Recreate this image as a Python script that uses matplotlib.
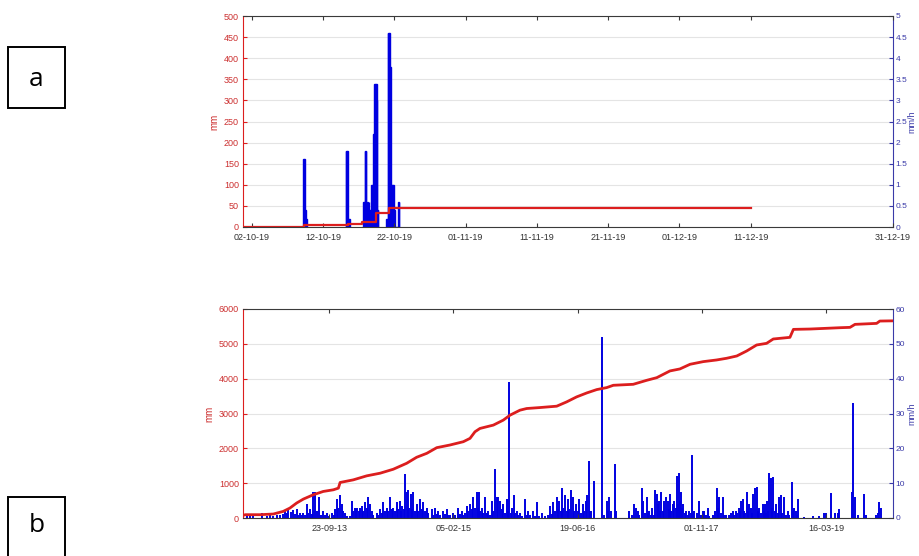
import numpy as np
import pandas as pd
import matplotlib
matplotlib.use("Agg")
import matplotlib.pyplot as plt
import matplotlib.dates as mdates
from matplotlib.patches import Rectangle

plt.rcParams['font.family'] = ['Liberation Sans', 'DejaVu Sans']

RED = '#dc1e1e'
RED_TXT = '#cc3030'
BLUE = '#0000e0'
BLUE_TXT = '#3a3aa8'
GREY = '#333333'

# ---- panel a : one storm period, autumn 2019 ----
# rain intensity (mm/h) in 2-hour steps, one list per storm
storm_start = ['2019-10-09 04:00', '2019-10-15 04:00', '2019-10-17 14:00', '2019-10-20 20:00']
storm_vals = [
    [1.6, 1.6, 1.6, 0.4, 0.4, 0.2],
    [1.8, 1.8, 1.8, 1.8, 0.2, 0.2, 0.2],
    [0.6, 0.6, 0.6, 1.8, 1.8, 1.8, 0.4, 0.6, 0.4, 0.4, 0.6, 0.4, 0.4, 0.4,
     1.0, 1.0, 1.0, 2.2, 2.2, 3.4, 3.4, 3.4, 3.4, 3.0, 0.4, 0.4],
    [0.2, 0.2, 0.2, 4.6, 4.6, 4.6, 3.8, 3.8, 1.0, 1.0, 1.0, 1.0, 1.0, 0.4, 0.4,
     0, 0, 0, 0, 0, 0.6, 0.6],
]
# cumulative rain (mm), step changes
cum_a_time = ['2019-10-01 00:00', '2019-10-09 06:00', '2019-10-15 12:00', '2019-10-17 12:00',
              '2019-10-19 10:00', '2019-10-21 07:00', '2019-12-11 00:00']
cum_a_mm = [0, 5, 8, 12, 34, 45, 45]
ticks_a = ['2019-10-02', '2019-10-12', '2019-10-22', '2019-11-01', '2019-11-11',
           '2019-11-21', '2019-12-01', '2019-12-11', '2019-12-31']

# ---- panel b : full record 2012-2019 (days since 11-10-2012) ----
record_start = '2012-10-11'
rain_day = [2, 15, 28, 42, 75, 95, 109, 122, 136, 150, 162, 169, 176, 183, 192, 203, 210, 216,
            223, 230, 236, 243, 250, 256, 263, 270, 276, 283, 290, 297, 306, 315, 323, 330, 337,
            345, 357, 365, 372, 377, 384, 390, 397, 404, 411, 418, 430, 438, 444, 451, 456, 460,
            466, 471, 478, 485, 491, 498, 505, 511, 518, 525, 538, 545, 552, 558, 565, 571, 578,
            585, 592, 598, 605, 612, 619, 625, 632, 637, 642, 648, 652, 659, 666, 670, 675, 680,
            686, 692, 699, 705, 713, 719, 726, 732, 739, 746, 760, 766, 773, 780, 786, 793, 806,
            813, 820, 826, 833, 847, 855, 867, 874, 880, 887, 893, 900, 907, 914, 920, 927, 934,
            941, 946, 952, 956, 961, 968, 974, 981, 988, 994, 1001, 1008, 1015, 1021, 1028, 1035,
            1041, 1048, 1055, 1062, 1067, 1072, 1077, 1082, 1091, 1096, 1102, 1108, 1115, 1122,
            1135, 1142, 1149, 1155, 1169, 1176, 1182, 1190, 1202, 1216, 1229, 1236, 1243, 1249,
            1256, 1263, 1268, 1274, 1279, 1283, 1290, 1296, 1303,
            1308, 1314, 1321, 1327, 1334, 1341, 1348, 1354, 1361, 1368, 1374, 1381, 1387, 1392,
            1396, 1401, 1414, 1444, 1455, 1464, 1470, 1475, 1482, 1498, 1502, 1555, 1568, 1576,
            1582, 1589, 1595, 1605, 1612, 1618, 1625, 1630, 1636, 1642, 1647, 1653, 1660, 1665,
            1669, 1674, 1678, 1683, 1690, 1696, 1703, 1710, 1715, 1719, 1725, 1730, 1737, 1742,
            1746, 1750, 1754, 1759, 1763, 1768, 1773, 1778, 1784, 1790, 1797, 1802, 1806, 1812,
            1817, 1827, 1837, 1844, 1851, 1857, 1864, 1871, 1878, 1891, 1900, 1907, 1912, 1918,
            1925, 1931, 1938, 1945, 1958, 1965, 1971, 1978, 1985, 1990, 1996, 2001, 2005, 2012,
            2018, 2023, 2028, 2034, 2039, 2045, 2050, 2055, 2063, 2069, 2074, 2079, 2086, 2092,
            2097, 2102, 2106, 2110, 2115, 2119, 2126, 2130, 2135, 2140, 2146, 2152, 2159, 2166,
            2172, 2179, 2186, 2193, 2200, 2210, 2215, 2220, 2226, 2231, 2236, 2260, 2294, 2320,
            2341, 2347, 2367, 2385, 2394, 2401, 2452, 2457, 2465, 2475, 2502, 2508, 2549, 2555,
            2562, 2569]
rain_int = [2.4, 1.0, 0.8, 1.2, 1.5, 0.6, 0.8, 0.5, 1.0, 0.8, 1.2, 2.0, 1.5, 2.5, 1.8, 2.2, 1.2, 2.5,
            1.0, 1.5, 0.8, 1.5, 1.0, 4.0, 1.5, 2.5, 1.2, 7.5, 7.5, 2.0, 6.0, 1.0, 2.0, 0.8, 1.5,
            0.6, 1.5, 0.8, 2.5, 5.5, 3.0, 6.5, 4.0, 2.0, 1.5, 0.6, 0.5, 5.0, 2.0, 3.0, 2.5, 3.0,
            2.0, 3.0, 3.5, 2.0, 4.5, 3.0, 6.0, 4.0, 2.0, 1.0, 1.5, 1.0, 2.5, 1.5, 4.5, 2.0, 3.0,
            2.0, 6.0, 2.5, 3.0, 2.0, 4.5, 2.5, 5.0, 2.0, 3.5, 2.5, 12.5, 7.5, 8.0, 3.0, 7.0, 2.5,
            7.5, 2.0, 4.0, 2.0, 5.5, 2.5, 4.5, 2.0, 3.0, 1.5, 2.5, 1.0, 3.0, 1.2, 2.0, 1.0, 2.0,
            1.2, 2.5, 1.0, 0.8, 1.5, 0.8, 3.0, 1.2, 2.0, 1.0, 1.5, 3.5, 2.0, 4.0, 2.5, 6.0, 3.0,
            7.5, 3.0, 7.5, 2.0, 3.0, 1.5, 6.0, 1.5, 2.0, 1.0, 5.0, 2.0, 14.2, 6.0, 6.0, 5.0,
            2.5, 4.0, 1.5, 5.5, 2.0, 39.0, 1.5, 3.0, 6.5, 1.5, 2.0, 0.8, 1.5, 0.6,
            5.5, 1.0, 2.0, 0.8, 2.0, 0.6, 4.5, 0.5, 1.5, 0.5, 1.0, 3.5, 1.2, 4.5,
            2.0, 6.0, 2.5, 5.0, 2.0, 8.5, 3.0, 6.5, 2.0,
            5.5, 2.5, 8.0, 6.0, 2.0, 4.0, 2.0, 5.5, 1.5, 4.0, 2.0, 5.0, 6.5, 16.5,
            2.0, 2.0, 10.5, 52.0, 1.0, 5.0, 2.0, 6.0, 2.0, 15.5, 2.0, 2.0, 1.0, 4.0,
            3.0, 2.0, 1.0, 8.5, 5.0, 1.5, 6.0, 1.5, 2.0, 1.0, 3.0, 1.0, 8.0, 7.0,
            4.0, 5.0, 2.0, 7.5, 2.0, 5.0, 6.0, 5.0, 2.5, 7.0, 2.0, 4.0, 5.0, 3.0,
            12.0, 4.0, 13.0, 5.0, 7.5, 3.0, 4.0, 1.5, 2.0, 1.0, 2.0, 1.5, 18.0, 1.5,
            2.0, 1.5, 5.0, 1.0, 2.0, 2.0, 0.8, 3.0, 0.6, 1.0, 2.0, 8.5, 3.0, 6.0,
            1.5, 6.0, 1.0, 1.0, 1.0, 1.5, 2.0, 1.0, 2.0, 1.5, 3.0, 2.0, 5.0, 5.5,
            2.0, 1.5, 7.5, 2.0, 4.0, 3.0, 1.5, 7.0, 8.5, 9.0, 2.0, 3.0, 1.5, 4.0,
            2.0, 4.0, 1.5, 5.0, 2.0, 12.8, 11.5, 3.0, 11.7, 2.0, 4.0, 1.5, 6.0, 6.5,
            1.5, 6.0, 1.0, 2.0, 1.0, 10.3, 2.0, 3.0, 2.0, 1.0, 5.5, 0.3, 0.5, 0.5,
            1.5, 1.5, 7.3, 1.5, 1.5, 2.5, 7.5, 33.0, 6.0, 1.0, 7.0, 1.0, 0.8, 1.5,
            4.5, 3.0]
cum_b_day = [2, 10, 68, 122, 162, 189, 216, 243, 283, 323, 364, 384, 391, 444, 498, 552, 605,
             659, 699, 740, 780, 833, 887, 914, 934, 954, 1008, 1048, 1075, 1115, 1142, 1196,
             1263, 1303, 1343, 1384, 1424, 1464, 1491, 1571, 1625, 1666, 1719, 1759, 1800, 1853,
             1907, 1947, 1988, 2028, 2068, 2108, 2135, 2202, 2216, 2283, 2404, 2444, 2464, 2551,
             2564, 2617]
cum_b_mm = [80, 95, 95, 114, 190, 286, 430, 543, 667, 762, 810, 857, 1020, 1095, 1210, 1286, 1400,
            1571, 1743, 1857, 2019, 2095, 2190, 2286, 2476, 2571, 2667, 2810, 2952, 3095, 3143, 3171,
            3210, 3333, 3476, 3590, 3686, 3743, 3810, 3838, 3952, 4029, 4222, 4279, 4413, 4489,
            4537, 4585, 4651, 4795, 4967, 5014, 5139, 5186, 5415, 5425, 5463, 5473, 5559, 5587,
            5654, 5660]
ticks_b = ['2013-09-23', '2015-02-05', '2016-06-19', '2017-11-01', '2019-03-16']


def style_pair(ax_l, ax_r, xticks, xlim, ymax_l, ystep_l, ymax_r, ystep_r):
    ax_l.set_xlim(xlim)
    ax_l.set_xticks(pd.to_datetime(xticks))
    ax_l.xaxis.set_major_formatter(mdates.DateFormatter('%d-%m-%y'))
    ax_l.set_ylim(0, ymax_l)
    ax_l.set_yticks(np.arange(0, ymax_l + 1e-9, ystep_l))
    ax_r.set_ylim(0, ymax_r)
    ax_r.set_yticks(np.arange(0, ymax_r + 1e-9, ystep_r))
    ax_r.yaxis.set_major_formatter(plt.FormatStrFormatter('%g'))

    # red line axis on top, bars and grid underneath
    ax_l.set_zorder(ax_r.get_zorder() + 1)
    ax_l.patch.set_visible(False)
    ax_r.grid(True, color='#e4e4e4', lw=0.8)
    ax_r.set_axisbelow(True)

    for s in ['top', 'bottom']:
        ax_l.spines[s].set_color('#3a3a3a')
        ax_l.spines[s].set_linewidth(0.8)
        ax_r.spines[s].set_visible(False)
    ax_l.spines['right'].set_visible(False)
    ax_l.spines['left'].set_color(RED)
    ax_l.spines['left'].set_linewidth(0.8)
    ax_r.spines['left'].set_visible(False)
    ax_r.spines['right'].set_color(BLUE_TXT)
    ax_r.spines['right'].set_linewidth(0.8)

    ax_l.tick_params(axis='x', direction='in', top=True, length=3, width=0.8,
                     color='#3a3a3a', labelcolor=GREY, labelsize=6.5, pad=4)
    ax_l.tick_params(axis='y', direction='in', length=3, width=0.8,
                     color=RED, labelcolor=RED_TXT, labelsize=6.5, pad=3)
    ax_r.tick_params(axis='y', direction='in', length=3, width=0.8,
                     color=BLUE_TXT, labelcolor=BLUE_TXT, labelsize=6, pad=2)
    ax_l.set_ylabel('mm', color=RED_TXT, fontsize=7, labelpad=3)
    ax_r.set_ylabel('mm/h', color=BLUE_TXT, fontsize=6.5, ha='center', va='center')
    ax_r.yaxis.set_label_coords(1.0297, 0.5)


fig = plt.figure(figsize=(9.19, 5.56), dpi=100)

# panel a
axa = fig.add_axes([243 / 919, 1 - 227 / 556, 650 / 919, 211 / 556])
axa2 = axa.twinx()
for start, vals in zip(storm_start, storm_vals):
    t = pd.Timestamp(start) + pd.to_timedelta(np.arange(len(vals)) * 2, unit='h')
    axa2.bar(t, vals, width=2 / 24, align='edge', color=BLUE, edgecolor=BLUE, linewidth=1.0)
axa.plot(pd.to_datetime(cum_a_time), cum_a_mm, color=RED, lw=1.6, drawstyle='steps-post')
style_pair(axa, axa2, ticks_a,
           (pd.Timestamp('2019-09-30 18:00'), pd.Timestamp('2019-12-31')),
           500, 50, 5, 0.5)

# panel b
axb = fig.add_axes([243 / 919, 1 - 518 / 556, 650 / 919, 209 / 556])
axb2 = axb.twinx()
t0 = pd.Timestamp(record_start)
axb2.vlines(t0 + pd.to_timedelta(rain_day, unit='D'), 0, rain_int, color=BLUE, lw=1.4)
axb.plot(t0 + pd.to_timedelta(cum_b_day, unit='D'), cum_b_mm, color=RED, lw=2.0)
style_pair(axb, axb2, ticks_b,
           (t0, t0 + pd.Timedelta(days=2617)),
           6000, 1000, 60, 10)

# boxed panel letters
fig.add_artist(Rectangle((8 / 919, 1 - 108 / 556), 57 / 919, 61 / 556, transform=fig.transFigure,
                         fill=False, ec='black', lw=1.4))
fig.add_artist(Rectangle((8 / 919, 1 - 580 / 556), 57 / 919, 83 / 556, transform=fig.transFigure,
                         fill=False, ec='black', lw=1.4))
fig.text(36.5 / 919, 1 - 79 / 556, 'a', ha='center', va='center', fontsize=19,
         family=['Open Sans', 'DejaVu Sans'])
fig.text(36.5 / 919, 1 - 526 / 556, 'b', ha='center', va='center', fontsize=19,
         family=['Open Sans', 'DejaVu Sans'])

fig.savefig('out.png', dpi=100)
